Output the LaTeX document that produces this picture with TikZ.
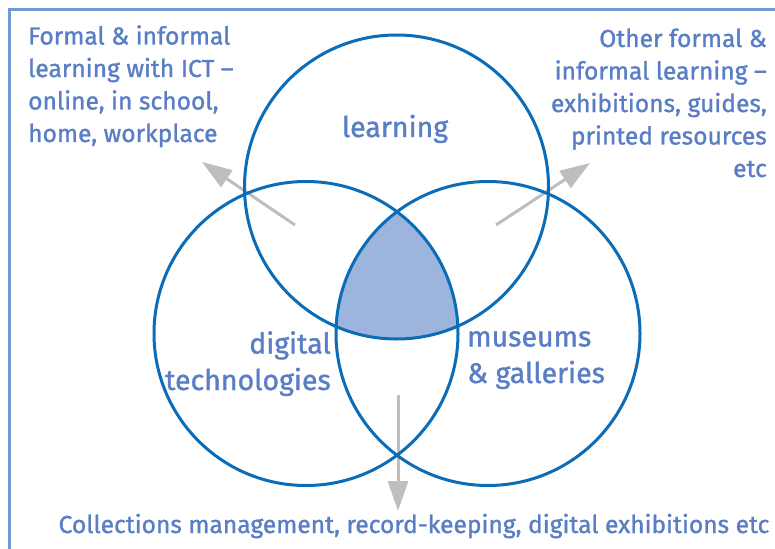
\documentclass[tikz,border=0pt]{standalone}
\usepackage{fontspec}
\setmainfont{Fira Sans}[FakeBold=1.2]
\usetikzlibrary{arrows.meta}
\definecolor{framec}{HTML}{6F9AD2}
\definecolor{circc}{HTML}{0B6DB7}
\definecolor{fillc}{HTML}{9DB4DD}
\definecolor{textc}{HTML}{5A7EC6}
\definecolor{arrc}{HTML}{BEBEBE}
\tikzset{
  ring/.style={draw=circc, line width=3pt},
  grayarrow/.style={draw=arrc, line width=3pt, -{Triangle[length=30pt,width=20pt]}, arrc},
  txt/.style={text=textc, inner sep=0pt, font=\fontsize{24.6}{32.5}\selectfont},
  lbl/.style={text=textc, inner sep=0pt, font=\fontsize{28.5}{36.5}\selectfont},
}
\begin{document}
\begin{tikzpicture}[x=1pt,y=-1pt]
\useasboundingbox (0,0) rectangle (775,548);
\fill[white] (0,0) rectangle (775,548);
\coordinate (fa) at (9.5,560);
\coordinate (fb) at (9.5,9.5);
\coordinate (fc) at (790,9.5);
\draw[framec, line width=3.5pt] (fa) -- (fb) -- (fc);
% circle centres
\coordinate (ct) at (396.5,187);
\coordinate (cl) at (306,333.5);
\coordinate (cr) at (488,333.5);
% shaded triple intersection
\begin{scope}
  \clip (ct) circle[radius=152];
  \clip (cl) circle[radius=152];
  \fill[fillc] (cr) circle[radius=152];
\end{scope}
% arrows
\coordinate (a1s) at (295,225);
\coordinate (a1e) at (202,162);
\coordinate (a2s) at (496,225);
\coordinate (a2e) at (590,163);
\coordinate (a3s) at (398,395);
\coordinate (a3e) at (398,511);
\draw[grayarrow] (a1s) -- (a1e);
\draw[grayarrow] (a2s) -- (a2e);
\draw[grayarrow] (a3s) -- (a3e);
% circles
\draw[ring] (ct) circle[radius=152];
\draw[ring] (cl) circle[radius=152];
\draw[ring] (cr) circle[radius=152];
% texts (base anchor = baseline of last line)
\node[txt, anchor=base west, align=left] (tl) at (28,142) {Formal \& informal\\learning with ICT –\\online, in school,\\home, workplace};
\node[txt, anchor=base east, align=right] (tr) at (767,177) {Other formal \&\\informal learning –\\exhibitions, guides,\\printed resources\\etc};
\node[lbl, anchor=base] (learn) at (395,137) {learning};
\node[lbl, anchor=base east, align=right] (dig) at (331,390) {digital\\technologies};
\node[lbl, anchor=base west, align=left] (mus) at (467,383) {museums\\\& galleries};
\node[txt, anchor=base] (bot) at (414,533) {Collections management, record-keeping, digital exhibitions etc};
\end{tikzpicture}
\end{document}
